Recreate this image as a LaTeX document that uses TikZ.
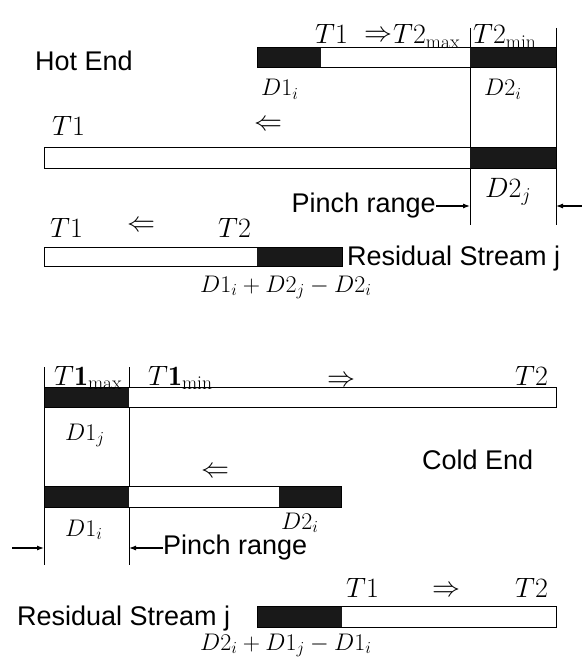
\RequirePackage{fix-cm}
\documentclass[tikz,border=0pt]{standalone}
\usepackage{amsmath,amssymb}
\usepackage{fontspec}
\setsansfont{Liberation Sans}
\usetikzlibrary{arrows.meta}

\tikzset{
  bar/.style={draw=black,line width=0.9pt},
  blk/.style={fill=black!90},
  lbl/.style={inner sep=0pt,anchor=base west,font=\fontsize{28}{30}\selectfont},
  sublbl/.style={inner sep=0pt,anchor=base west,font=\fontsize{24}{26}\selectfont},
  txt/.style={inner sep=0pt,font=\sffamily\fontsize{27}{30}\selectfont},
  pinch/.style={-{Latex[length=7pt,width=5pt]},line width=1.1pt},
  edge/.style={line width=1pt}
}

\begin{document}
\begin{tikzpicture}[x=1pt,y=-1pt]
  \useasboundingbox (0,0) rectangle (581,660);
  % ---------------- Hot end ----------------
  \coordinate (hA) at (470,28);
  \coordinate (hB) at (556,28);
  \draw[edge] (hA) -- (470,225);
  \draw[edge] (hB) -- (556,225);
  % stream i (top)
  \fill[white] (257,47) rectangle (556,67);
  \fill[blk] (257,47) rectangle (321,67);
  \fill[blk] (470,47) rectangle (556,67);
  \draw[bar] (257,47) rectangle (556,67);
  % stream j
  \fill[white] (44,147) rectangle (556,168);
  \fill[blk] (470,147) rectangle (556,168);
  \draw[bar] (44,147) rectangle (556,168);
  % residual stream j
  \fill[white] (44,247) rectangle (342,266);
  \fill[blk] (257,247) rectangle (342,266);
  \draw[bar] (44,247) rectangle (342,266);
  % labels
  \node[txt,anchor=base west] (hot) at (35,71) {Hot End};
  \node[lbl] (hT1) at (315,44) {$T1$};
  \node[lbl] (hR) at (364,42) {$\Rightarrow$};
  \node[lbl] (hT2max) at (393,44) {$T2_{\mathrm{max}}$};
  \node[lbl] (hT2min) at (473,44) {$T2_{\mathrm{min}}$};
  \node[sublbl] (hD1i) at (261,96) {$D1_i$};
  \node[sublbl] (hD2i) at (484,96) {$D2_i$};
  \node[lbl] (jT1) at (52,136) {$T1$};
  \node[lbl] (jL) at (254,131) {$\Leftarrow$};
  \node[lbl] (hD2j) at (485,197) {$D2_j$};
  \node[lbl] (rT1) at (50,237) {$T1$};
  \node[lbl] (rL) at (127,231) {$\Leftarrow$};
  \node[lbl] (rT2) at (218,237) {$T2$};
  \node[txt,anchor=base west] (resA) at (347,265) {Residual Stream j};
  \node[sublbl] (resAx) at (200,292) {$D1_i + D2_j - D2_i$};
  % pinch range (hot)
  \node[txt,anchor=east] (pinchA) at (436,206) {Pinch range};
  \coordinate (hAp) at (470,206);
  \coordinate (hBp) at (556,206);
  \coordinate (hBout) at (582,206);
  \draw[pinch] (pinchA.east) -- (hAp);
  \draw[pinch] (hBout) -- (hBp);
  % ---------------- Cold end ----------------
  \coordinate (cA) at (44,367);
  \coordinate (cB) at (129,367);
  \draw[edge] (cA) -- (44,565);
  \draw[edge] (cB) -- (129,565);
  % stream j (top)
  \fill[white] (44,387) rectangle (556,407);
  \fill[blk] (44,387) rectangle (129,407);
  \draw[bar] (44,387) rectangle (556,407);
  % stream i
  \fill[white] (44,486) rectangle (341,507);
  \fill[blk] (44,486) rectangle (129,507);
  \fill[blk] (279,486) rectangle (341,507);
  \draw[bar] (44,486) rectangle (341,507);
  % residual stream j
  \fill[white] (257,606) rectangle (556,627);
  \fill[blk] (257,606) rectangle (342,627);
  \draw[bar] (257,606) rectangle (556,627);
  % labels
  \node[lbl] (cT1max) at (54,385) {$T\mathbf{1}_{\mathrm{max}}$};
  \node[lbl] (cT1min) at (148,385) {$T\mathbf{1}_{\mathrm{min}}$};
  \node[lbl] (cR) at (327,386) {$\Rightarrow$};
  \node[lbl] (cT2) at (515,385) {$T2$};
  \node[sublbl] (cD1j) at (65,440) {$D1_j$};
  \node[txt,anchor=base west] (cold) at (422,469) {Cold End};
  \node[lbl] (iL) at (201,477) {$\Leftarrow$};
  \node[sublbl] (cD1i) at (65,536) {$D1_i$};
  \node[sublbl] (cD2i) at (281,529) {$D2_i$};
  \node[lbl] (sT1) at (346,597) {$T1$};
  \node[lbl] (sR) at (432,596) {$\Rightarrow$};
  \node[lbl] (sT2) at (515,597) {$T2$};
  \node[txt,anchor=base west] (resB) at (17,625) {Residual Stream j};
  \node[sublbl] (resBx) at (200,650) {$D2_i + D1_j - D1_i$};
  % pinch range (cold)
  \node[txt,anchor=west] (pinchB) at (163,548) {Pinch range};
  \coordinate (cAp) at (44,548);
  \coordinate (cBp) at (129,548);
  \coordinate (cAout) at (12,548);
  \draw[pinch] (cAout) -- (cAp);
  \draw[pinch] (pinchB.west) -- (cBp);
\end{tikzpicture}
\end{document}
